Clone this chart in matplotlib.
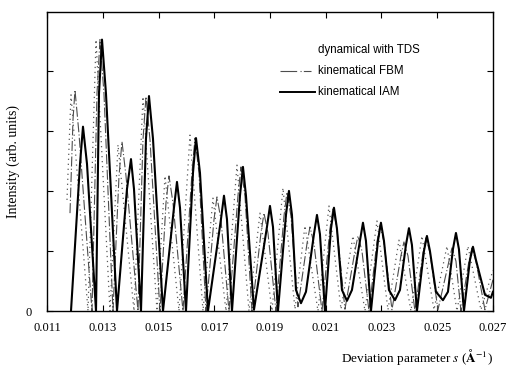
import matplotlib
matplotlib.use("Agg")
import numpy as np
import matplotlib.pyplot as plt

plt.rcParams["mathtext.fontset"] = "stix"

# deviation parameter s in units of 1e-3 1/A, intensity in arb. units
s_iam = [11.861, 12.184, 12.291, 12.435, 12.758, 12.865, 12.973, 13.116, 13.511,
         13.869, 14.013, 14.121, 14.372, 14.551, 14.659, 14.802, 15.161,
         15.555, 15.663, 15.771, 15.986, 16.237, 16.345, 16.488, 16.775,
         17.241, 17.349, 17.456, 17.636, 17.923, 18.030, 18.138, 18.425,
         18.891, 18.999, 19.107, 19.286, 19.573, 19.680, 19.788, 19.932, 20.111, 20.290,
         20.577, 20.685, 20.792, 20.972, 21.187, 21.295, 21.402, 21.582, 21.761, 21.940,
         22.227, 22.335, 22.442, 22.622, 22.873, 22.980, 23.088, 23.267, 23.483, 23.662,
         23.877, 23.985, 24.092, 24.272, 24.523, 24.630, 24.738, 24.953, 25.204, 25.384,
         25.563, 25.671, 25.778, 25.958, 26.173, 26.281, 26.388, 26.711, 26.926, 26.998]
i_iam = [0, 2.45, 3.07, 2.45, 0, 3.62, 4.52, 3.62, 0,
         2.03, 2.53, 2.03, 0, 2.87, 3.58, 2.87, 0,
         1.72, 2.15, 1.72, 0, 2.30, 2.88, 2.30, 0,
         1.53, 1.92, 1.53, 0, 1.92, 2.40, 1.92, 0.02,
         1.40, 1.75, 1.40, 0, 1.60, 2.00, 1.60, 0.35, 0.13, 0.32,
         1.28, 1.60, 1.28, 0, 1.37, 1.72, 1.37, 0.35, 0.17, 0.35,
         1.17, 1.47, 1.17, 0, 1.17, 1.47, 1.17, 0.35, 0.18, 0.35,
         1.10, 1.38, 1.10, 0, 1.00, 1.25, 1.00, 0.32, 0.18, 0.32,
         1.03, 1.30, 1.03, 0, 0.85, 1.07, 0.85, 0.27, 0.22, 0.32]

s_fbm = [11.825, 11.932, 12.004, 12.148, 12.614, 12.793, 12.901, 13.044, 13.367,
         13.583, 13.690, 13.834, 14.264, 14.443, 14.551, 14.695, 15.053,
         15.268, 15.376, 15.520, 15.878, 16.201, 16.309, 16.452, 16.703,
         16.990, 17.098, 17.241, 17.528, 17.851, 17.959, 18.102, 18.353,
         18.676, 18.784, 18.927, 19.214, 19.501, 19.609, 19.752, 20.003,
         20.326, 20.434, 20.577, 20.864, 21.151, 21.259, 21.402, 21.689,
         22.048, 22.155, 22.299, 22.550, 22.837, 22.945, 23.088, 23.375,
         23.698, 23.805, 23.949, 24.200, 24.487, 24.595, 24.738, 25.025,
         25.420, 25.527, 25.671, 25.850, 26.137, 26.245, 26.388, 26.711, 26.998]
i_fbm = [1.63, 3.18, 3.68, 2.95, 0, 3.62, 4.52, 3.62, 0,
         2.25, 2.82, 2.25, 0, 2.85, 3.57, 2.85, 0,
         1.80, 2.25, 1.80, 0, 2.30, 2.88, 2.30, 0,
         1.52, 1.90, 1.52, 0, 1.92, 2.40, 1.92, 0,
         1.30, 1.63, 1.30, 0, 1.58, 1.98, 1.58, 0.07,
         1.12, 1.40, 1.12, 0, 1.37, 1.70, 1.37, 0.03,
         1.00, 1.25, 1.00, 0, 1.15, 1.43, 1.15, 0.02,
         0.92, 1.15, 0.92, 0, 0.97, 1.22, 0.97, 0.02,
         0.83, 1.05, 0.83, 0, 0.83, 1.05, 0.83, 0.02, 0.52]

s_tds = [11.717, 11.861, 12.471, 12.758, 13.260, 13.547, 14.121, 14.443, 14.946,
         15.233, 15.735, 16.129, 16.596, 16.954, 17.421, 17.815, 18.246,
         18.640, 19.071, 19.465, 19.896, 20.254, 20.721, 21.115, 21.546,
         21.976, 22.407, 22.837, 23.232, 23.626, 24.056, 24.451, 24.882,
         25.348, 25.707, 26.101, 26.568, 26.998]
i_tds = [1.85, 3.60, 0, 4.52, 0, 2.77, 0, 3.57, 0,
         2.25, 0, 2.93, 0, 1.88, 0, 2.43, 0,
         1.63, 0, 2.05, 0.03, 1.42, 0, 1.75, 0.03,
         1.25, 0, 1.50, 0.02, 1.18, 0, 1.25, 0.02,
         1.08, 0, 1.08, 0.02, 0.68]

x_ticks = [0.011, 0.013, 0.015, 0.017, 0.019, 0.021, 0.023, 0.025, 0.027]
legend_labels = ["dynamical with TDS", "kinematical FBM", "kinematical IAM"]

serif = ["Liberation Serif", "DejaVu Serif"]

fig = plt.figure(figsize=(5.09, 3.67), dpi=100)
ax = fig.add_axes([47 / 509, 56 / 367, 446 / 509, 299 / 367])

ax.plot(np.array(s_tds) * 1e-3, i_tds, color="0.35", lw=0.9, dashes=(1, 3))
ax.plot(np.array(s_fbm) * 1e-3, i_fbm, color="0.3", lw=0.8, dashes=(9, 2, 1, 2))
ax.plot(np.array(s_iam) * 1e-3, i_iam, color="black", lw=1.5)

ax.set_xlim(0.011, 0.027)
ax.set_ylim(0, 4.98)
ax.set_xticks(x_ticks)
ax.set_xticklabels([f"{v:.3f}" for v in x_ticks], family=serif, fontsize=9)
ax.set_yticks([0, 1, 2, 3, 4])
ax.set_yticklabels(["0", "", "", "", ""], family=serif, fontsize=9)
ax.tick_params(direction="in", length=4, width=0.8, top=True, right=True)
ax.tick_params(axis="x", pad=8)
ax.tick_params(axis="y", pad=11)
for sp in ax.spines.values():
    sp.set_linewidth(1.0)

ax.set_xlabel(r"Deviation parameter $\mathit{s}$ ($\mathbf{\AA}^{-1}$)", family=serif,
              fontsize=9.5, loc="right", labelpad=9)
ax.set_ylabel("Intensity (arb. units)", family=serif, fontsize=10, labelpad=4)

# legend drawn by hand, as in the original figure
tr = ax.transAxes
ax.plot([0.600, 0.602], [0.873, 0.873], color="0.35", lw=0.9, dashes=(1, 3), transform=tr)
ax.plot([0.523, 0.591], [0.803, 0.803], color="0.3", lw=0.8, dashes=(15, 3, 1, 2), transform=tr)
ax.plot([0.523, 0.602], [0.732, 0.732], color="black", lw=1.4, transform=tr)
for y, lab in zip([0.873, 0.803, 0.732], legend_labels):
    ax.text(0.608, y, lab, transform=tr, fontsize=8.3, family=["Liberation Sans"],
            va="center", ha="left")

fig.savefig("out.png", dpi=100)
